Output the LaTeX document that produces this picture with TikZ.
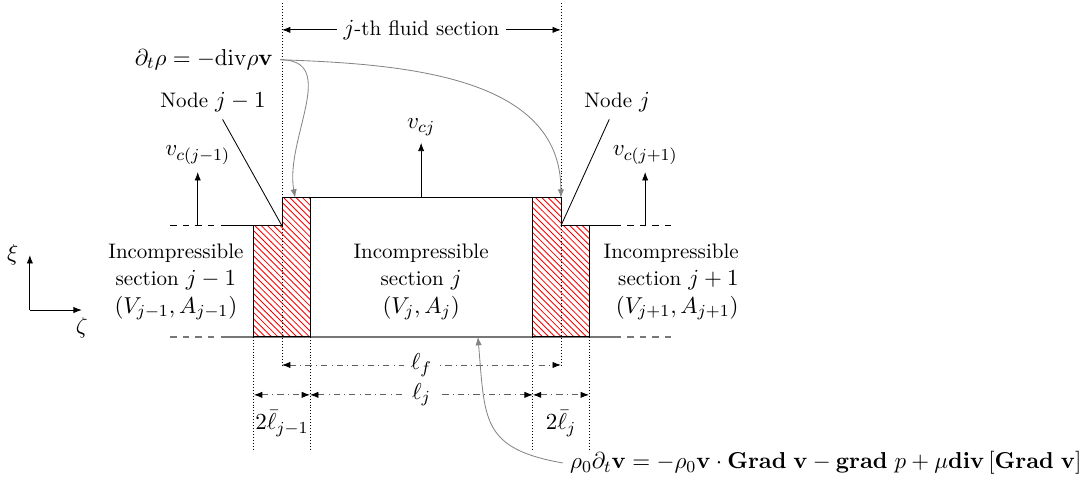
\documentclass[tikz,border=0pt]{standalone}
\usepackage{amsmath,amssymb}
\usepackage{xcolor}
\usepackage{tikz}
\usetikzlibrary{arrows.meta,positioning,calc,patterns}
\DeclareMathSizes{10}{10.95}{8}{6}
\definecolor{guide}{HTML}{858585}
\definecolor{dimgray}{HTML}{606060}
\definecolor{bedline}{HTML}{777777}

\begin{document}
\begin{tikzpicture}[x=1cm,y=1cm,>={Latex[length=4pt]},
  sect/.style={align=center,font=\fontsize{10}{13}\selectfont},
  dimline/.style={draw=dimgray,dash dot,{Latex[length=4pt,color=black]}-{Latex[length=4pt,color=black]}},
  curvearrow/.style={draw=guide,-{Latex[length=4pt,color=guide]}},
  hatchnode/.style={draw=black,pattern=north west lines,pattern color=red}]
\useasboundingbox (0,0) rectangle (18.18,8.05);
% bed line and section tops
\draw[bedline,semithick,dashed] (2.85,2.41) -- (3.77,2.41);
\draw[bedline,semithick] (3.77,2.41) -- (10.29,2.41);
\draw[bedline,semithick,dashed] (10.29,2.41) -- (11.26,2.41);
\draw[dashed] (2.85,4.27) -- (3.77,4.27);
\draw (3.77,4.27) -- (4.25,4.27);
\draw (5.19,4.74) -- (8.92,4.74);
\draw (9.86,4.27) -- (10.29,4.27);
\draw[dashed] (10.29,4.27) -- (11.26,4.27);
% hatched node volumes
\draw[hatchnode] (4.25,2.41) -- (4.25,4.27) -- (4.72,4.27) -- (4.72,4.74) -- (5.19,4.74) -- (5.19,2.41) -- cycle;
\draw[hatchnode] (8.92,2.41) -- (8.92,4.74) -- (9.39,4.74) -- (9.39,4.27) -- (9.86,4.27) -- (9.86,2.41) -- cycle;
% guide lines
\draw[densely dotted] (4.72,8.00) -- (4.72,1.94);
\draw[densely dotted] (9.39,8.00) -- (9.39,1.94);
\foreach \x in {4.25,5.19,8.92,9.86}{\draw[densely dotted] (\x,2.41) -- (\x,0.52);}
% named points
\coordinate (cnjm) at (4.72,4.27);
\coordinate (cnj) at (9.39,4.27);
\coordinate (hitjm) at (4.94,4.74);
\coordinate (hitj) at (9.39,4.74);
\coordinate (hitbed) at (8.00,2.41);
\coordinate (secL) at (4.72,7.55);
\coordinate (secR) at (9.39,7.55);
\coordinate (vbjm) at (3.31,4.27);
\coordinate (vbj) at (7.05,4.74);
\coordinate (vbjp) at (10.80,4.27);
\coordinate (fL) at (4.72,1.94);
\coordinate (fR) at (9.39,1.94);
\coordinate (dA) at (4.25,1.44);
\coordinate (dB) at (5.19,1.44);
\coordinate (dC) at (8.92,1.44);
\coordinate (dD) at (9.86,1.44);
\coordinate (ax0) at (0.50,2.86);
\coordinate (axxi) at (0.50,3.78);
\coordinate (axzeta) at (1.37,2.86);
% velocities
\node[anchor=south] (vjm) at (3.31,5.17) {$v_{c(j-1)}$};
\node[anchor=south] (vj) at (7.05,5.66) {$v_{cj}$};
\node[anchor=south] (vjp) at (10.80,5.17) {$v_{c(j+1)}$};
\draw[->] (vbjm) -- (vjm);
\draw[->] (vbj) -- (vj);
\draw[->] (vbjp) -- (vjp);
% nodes
\node (ndjm) at (3.565,6.34) {Node $j-1$};
\node (ndj) at (10.33,6.34) {Node $j$};
\draw (cnjm) -- (ndjm);
\draw (cnj) -- (ndj);
% mass balance
\node[anchor=east] (mass) at (4.69,7.05) {$\partial_t\rho = -\mathrm{div}\rho\mathbf{v}$};
\draw[curvearrow] (mass.east) to[out=0,in=100,looseness=1.1] (hitjm);
\draw[curvearrow] (mass.east) to[out=-2,in=90] (hitj);
\draw[<->] (secL) -- node[fill=white] (fsec) {$j$-th fluid section} (secR);
% sections
\node[sect] (secjm) at (2.945,3.33) {Incompressible\\section $j-1$\\$(V_{j-1},A_{j-1})$};
\node[sect] (secj) at (7.05,3.33) {Incompressible\\section $j$\\$(V_j,A_j)$};
\node[sect,align=right,anchor=east] (secjp) at (12.49,3.33) {Incompressible\\section $j+1$\\$(V_{j+1},A_{j+1})$};
% lengths
\draw[dimline] (fL) -- node[fill=white] (lf) {$\ell_f$} (fR);
\draw[dimline] (dB) -- node[fill=white] (lj) {$\ell_j$} (dC);
\draw[dimline] (dA) -- node[below=4pt] (lbjm) {$2\bar{\ell}_{j-1}$} (dB);
\draw[dimline] (dC) -- node[below=4pt] (lbj) {$2\bar{\ell}_j$} (dD);
% momentum balance
\node[anchor=west] (mom) at (9.42,0.30) {$\rho_0\partial_t\mathbf{v} = -\rho_0\mathbf{v}\cdot\mathbf{Grad}\ \mathbf{v} - \mathbf{grad}\ p + \mu\mathbf{div}\left[\mathbf{Grad}\ \mathbf{v}\right]$};
\draw[curvearrow] (mom.west) to[out=170,in=-85,looseness=1.4] (hitbed);
% axes
\draw[->] (ax0) -- (axxi);
\draw[->] (ax0) -- (axzeta);
\node[left=2pt of axxi] (xi) {$\xi$};
\node[below=0pt of axzeta] (zeta) {$\zeta$};
\end{tikzpicture}
\end{document}
